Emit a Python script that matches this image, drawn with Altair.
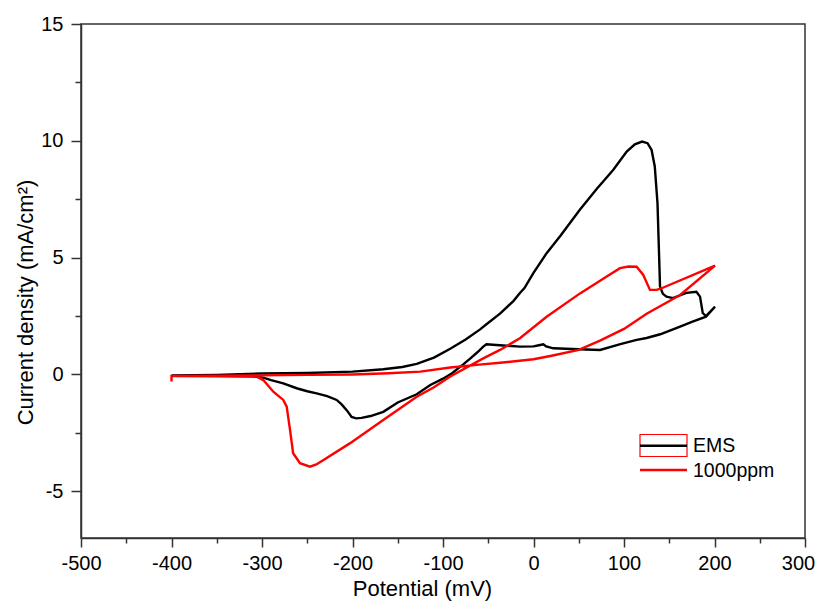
import altair as alt
import pandas as pd

# ---- data ----
series_names = ["EMS", "1000ppm"]
series_colors = ["#000000", "#ff0000"]

ems_potential = [-400, -350, -300, -250, -200, -166, -145, -129, -110, -92, -75, -59, -52, -37, -22, -15,
                 -10, 0, 14.5, 30, 51, 70, 88, 103, 112, 120, 126, 130.5, 134, 137, 138.7, 139.8, 143,
                 147, 154, 169, 180, 184, 187, 190.6, 200.6, 190.6, 175, 162, 140, 125, 114, 96, 73.5,
                 50, 22, 14, 10.9, 6, 0, -15, -41, -52, -55.5, -62, -70, -78, -90, -100, -114, -129,
                 -150, -166, -180, -190, -196, -201, -206, -212, -217.5, -228, -239.6, -250, -261.7,
                 -276.5, -290, -298.6, -310, -350, -400]
ems_current = [-0.04, -0.02, 0.04, 0.06, 0.12, 0.22, 0.32, 0.45, 0.72, 1.1, 1.5, 1.93, 2.15, 2.6, 3.15,
               3.49, 3.7, 4.35, 5.19, 5.95, 7.04, 7.95, 8.75, 9.54, 9.85, 9.97, 9.9, 9.61, 8.9, 7.34,
               5.19, 3.76, 3.45, 3.33, 3.27, 3.49, 3.54, 3.33, 2.63, 2.5, 2.9, 2.47, 2.25, 2.05, 1.72,
               1.56, 1.48, 1.3, 1.05, 1.08, 1.12, 1.2, 1.29, 1.25, 1.2, 1.19, 1.26, 1.29, 1.19, 0.95,
               0.68, 0.42, 0.05, -0.18, -0.45, -0.85, -1.2, -1.6, -1.78, -1.86, -1.88, -1.82, -1.55,
               -1.28, -1.09, -0.93, -0.81, -0.72, -0.59, -0.38, -0.24, -0.14, -0.08, -0.07, -0.06]

ppm_potential = [-400, -400, -350, -300, -250, -200, -160, -125, -92, -60, -37, 0, 20, 50, 73.5, 100,
                 125, 162, 200.6, 141.6, 136, 128.7, 121.3, 114, 105, 95.6, 80.9, 51.4, 14.5, -15, -37,
                 -55.5, -92, -110, -129, -166, -203, -232, -240, -247, -258, -265.6, -269, -272.7,
                 -276.5, -287.5, -298.6, -306, -350, -400]
ppm_current = [-0.3, -0.06, -0.05, -0.04, -0.02, 0.0, 0.05, 0.12, 0.3, 0.42, 0.5, 0.65, 0.8, 1.05, 1.45,
               1.95, 2.6, 3.4, 4.66, 3.69, 3.62, 3.62, 4.26, 4.61, 4.62, 4.55, 4.19, 3.47, 2.47, 1.55,
               1.05, 0.69, -0.09, -0.55, -0.95, -1.95, -2.95, -3.66, -3.85, -3.95, -3.8, -3.37, -2.38,
               -1.38, -1.09, -0.74, -0.24, -0.09, -0.07, -0.06]

x_domain = [-500, 300]
y_domain = [-7, 15]
x_tick_values = [-500, -450, -400, -350, -300, -250, -200, -150, -100, -50, 0, 50, 100, 150, 200, 250, 300]
y_tick_values = [-5, -2.5, 0, 2.5, 5, 7.5, 10, 12.5, 15]

FONT = "Liberation Sans"

ems_df = pd.DataFrame({"potential": ems_potential, "current": ems_current,
                       "idx": list(range(len(ems_potential)))})
ppm_df = pd.DataFrame({"potential": ppm_potential, "current": ppm_current,
                       "idx": list(range(len(ppm_potential)))})

common_axis = dict(
    labelFont=FONT, labelFontSize=20, labelColor="#000000",
    titleFont=FONT, titleFontSize=22, titleFontWeight="normal", titleColor="#000000",
    domainColor="#333333", domainWidth=1.5, tickColor="#333333", tickWidth=1.5,
    grid=False, labelOverlap=False, labelFlush=False,
)

x_axis = alt.Axis(
    values=x_tick_values,
    labelExpr="datum.value % 100 === 0 ? '' + datum.value : ''",
    tickSize={"condition": {"test": "datum.value % 100 !== 0", "value": 5}, "value": 9},
    labelOffset={"condition": {"test": "datum.value === 300", "value": -7}, "value": 0},
    labelPadding=6,
    titleX=341, titleY=57, titleAlign="center", titleBaseline="alphabetic",
    **common_axis,
)
y_axis = alt.Axis(
    values=y_tick_values,
    labelExpr="datum.value % 5 === 0 ? '' + datum.value : ''",
    tickSize={"condition": {"test": "datum.value % 5 !== 0", "value": 6}, "value": 10},
    labelPadding=8,
    titleAngle=270, titleX=-49, titleY=278, titleAlign="center", titleBaseline="alphabetic",
    **common_axis,
)

x_enc = alt.X("potential:Q", scale=alt.Scale(domain=x_domain, nice=False, zero=False),
              axis=x_axis, title="Potential (mV)")
y_enc = alt.Y("current:Q", scale=alt.Scale(domain=y_domain, nice=False, zero=False),
              axis=y_axis, title="Current density (mA/cm²)")

ems_line = alt.Chart(ems_df).mark_line(color=series_colors[0], strokeWidth=2.4).encode(
    x=x_enc, y=y_enc, order=alt.Order("idx:Q"))
ppm_line = alt.Chart(ppm_df).mark_line(color=series_colors[1], strokeWidth=2.4).encode(
    x=x_enc, y=y_enc, order=alt.Order("idx:Q"))

# ---- custom legend (as in the reference) ----
leg0 = alt.Chart(pd.DataFrame({"name": [series_names[0]]}))
leg1 = alt.Chart(pd.DataFrame({"name": [series_names[1]]}))

leg_box = leg0.mark_rect(fillOpacity=0, stroke="#ff0000", strokeWidth=1.2).encode(
    x=alt.value(559), x2=alt.value(606), y=alt.value(410.5), y2=alt.value(432.5))
leg_line0 = leg0.mark_rule(color=series_colors[0], strokeWidth=2.5).encode(
    x=alt.value(559), x2=alt.value(606), y=alt.value(421.7))
leg_text0 = leg0.mark_text(align="left", baseline="alphabetic", font=FONT, fontSize=19.5,
                           color="#000000").encode(x=alt.value(612), y=alt.value(428.3), text="name:N")
leg_line1 = leg1.mark_rule(color=series_colors[1], strokeWidth=2.5).encode(
    x=alt.value(559), x2=alt.value(606), y=alt.value(446))
leg_text1 = leg1.mark_text(align="left", baseline="alphabetic", font=FONT, fontSize=19.5,
                           color="#000000").encode(x=alt.value(612), y=alt.value(452.7), text="name:N")

chart = alt.layer(
    ems_line, ppm_line, leg_box, leg_line0, leg_text0, leg_line1, leg_text1
).properties(
    width=724, height=514,
    autosize=alt.AutoSizeParams(type="none"),
    padding={"left": 73, "top": 16, "right": 11, "bottom": 64},
).configure_view(
    stroke="#333333", strokeWidth=1.5
)

chart.save("out.html", embed_options={"renderer": "svg", "actions": False})
